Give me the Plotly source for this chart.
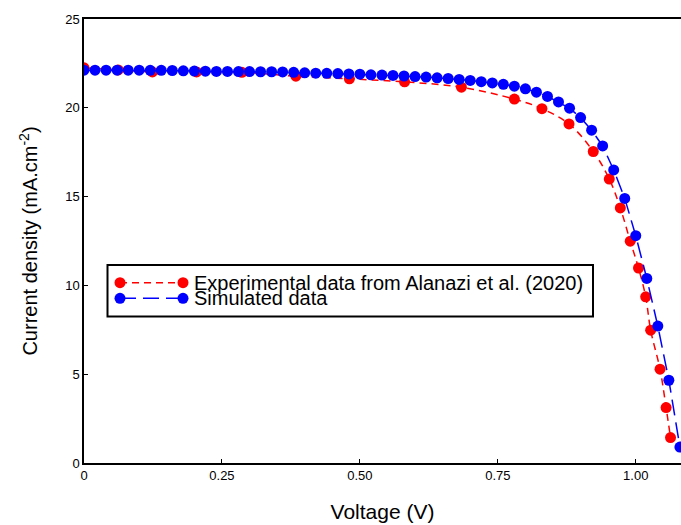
import plotly.graph_objects as go

# Experimental data (Alanazi et al., 2020)
exp_v = [0.000, 0.062, 0.124, 0.204, 0.286, 0.384, 0.481, 0.581, 0.684, 0.780,
         0.830, 0.879, 0.923, 0.952, 0.972, 0.990, 1.005, 1.018, 1.027, 1.044,
         1.055, 1.063]
exp_j = [22.25, 22.13, 22.02, 22.02, 22.00, 21.78, 21.63, 21.46, 21.16, 20.49,
         19.95, 19.09, 17.54, 15.99, 14.36, 12.49, 10.98, 9.36, 7.48, 5.28,
         3.12, 1.43]

# Simulated data
sim_v = [0.00, 0.02, 0.04, 0.06, 0.08, 0.10, 0.12, 0.14, 0.16, 0.18,
         0.20, 0.22, 0.24, 0.26, 0.28, 0.30, 0.32, 0.34, 0.36, 0.38,
         0.40, 0.42, 0.44, 0.46, 0.48, 0.50, 0.52, 0.54, 0.56, 0.58,
         0.60, 0.62, 0.64, 0.66, 0.68, 0.70, 0.72, 0.74, 0.76, 0.78,
         0.80, 0.82, 0.84, 0.86, 0.88, 0.90, 0.92, 0.94, 0.96, 0.98,
         1.00, 1.02, 1.04, 1.06, 1.08]
sim_j = [22.12, 22.12, 22.12, 22.12, 22.12, 22.12, 22.11, 22.11, 22.10, 22.08,
         22.07, 22.06, 22.05, 22.05, 22.04, 22.04, 22.03, 22.03, 22.02, 22.00,
         21.97, 21.95, 21.94, 21.93, 21.91, 21.89, 21.86, 21.84, 21.82, 21.79,
         21.76, 21.73, 21.69, 21.65, 21.60, 21.54, 21.47, 21.40, 21.32, 21.22,
         21.07, 20.88, 20.64, 20.33, 19.98, 19.45, 18.74, 17.85, 16.50, 14.90,
         12.80, 10.39, 7.71, 4.66, 0.90]

series_names = ["Experimental data from Alanazi et al. (2020)", "Simulated data"]
series_colors = ["#ff0000", "#0000ff"]
series_dash = ["7px,5px", "16px,7px"]

x_tickvals = [0, 0.25, 0.5, 0.75, 1.0]
x_ticktext = ["0", "0.25", "0.50", "0.75", "1.00"]
y_tickvals = [0, 5, 10, 15, 20, 25]

FONT = "Arial, Liberation Sans, sans-serif"

W, H = 681, 525
ML, MR, MT, MB = 84, 0, 19, 62
PW, PH = W - ML - MR, H - MT - MB


def px_x(p):
    return (p - ML) / PW


def px_y(p):
    return (H - MB - p) / PH


fig = go.Figure()
fig.add_trace(go.Scatter(
    x=exp_v, y=exp_j, mode="lines+markers", name=series_names[0],
    line=dict(color=series_colors[0], width=1.5, dash=series_dash[0], shape="spline"),
    marker=dict(color=series_colors[0], size=11),
))
fig.add_trace(go.Scatter(
    x=sim_v, y=sim_j, mode="lines+markers", name=series_names[1],
    line=dict(color=series_colors[1], width=1.5, dash=series_dash[1]),
    marker=dict(color=series_colors[1], size=11),
))

# Manual legend (box, sample lines with end markers, labels)
shapes = [dict(type="rect", xref="paper", yref="paper",
               x0=px_x(107.5), x1=px_x(593), y0=px_y(316.5), y1=px_y(265),
               line=dict(color="black", width=2), fillcolor="white", layer="above")]
annotations = []
row_y = [282.7, 298.3]
for i in range(2):
    yy = px_y(row_y[i])
    shapes.append(dict(type="line", xref="paper", yref="paper",
                       x0=px_x(120), x1=px_x(183), y0=yy, y1=yy,
                       line=dict(color=series_colors[i], width=1.5, dash=series_dash[i]),
                       layer="above"))
    for xp in (120, 183):
        shapes.append(dict(type="circle", xref="paper", yref="paper",
                           xsizemode="pixel", ysizemode="pixel",
                           xanchor=px_x(xp), yanchor=yy,
                           x0=-5.5, x1=5.5, y0=-5.5, y1=5.5,
                           fillcolor=series_colors[i], line=dict(width=0),
                           layer="above"))
    annotations.append(dict(text=series_names[i], xref="paper", yref="paper",
                            x=px_x(192), y=yy, xanchor="left", yanchor="middle",
                            showarrow=False,
                            font=dict(family=FONT, size=20, color="black")))

fig.update_layout(
    width=W, height=H,
    margin=dict(l=ML, r=MR, t=MT, b=MB),
    paper_bgcolor="white", plot_bgcolor="white",
    font=dict(family=FONT, color="black", size=13),
    showlegend=False,
    shapes=shapes, annotations=annotations,
)
fig.update_xaxes(
    range=[0, 1.082], tickvals=x_tickvals, ticktext=x_ticktext,
    showline=True, linecolor="black", linewidth=1.5, mirror=True,
    ticks="inside", ticklen=4, tickcolor="black", tickwidth=1,
    showgrid=False, zeroline=False,
    tickfont=dict(family=FONT, size=13, color="black"),
    title=dict(text="Voltage (V)", font=dict(family=FONT, size=21, color="black"), standoff=22),
)
fig.update_yaxes(
    range=[0, 25], tickvals=y_tickvals,
    showline=True, linecolor="black", linewidth=1.5,
    ticks="inside", ticklen=4, tickcolor="black", tickwidth=1,
    showgrid=False, zeroline=False,
    tickfont=dict(family=FONT, size=13, color="black"),
    title=dict(text="Current density (mA.cm<sup>-2</sup>)", font=dict(family=FONT, size=20, color="black"), standoff=22),
)

fig.write_html("out.html")
